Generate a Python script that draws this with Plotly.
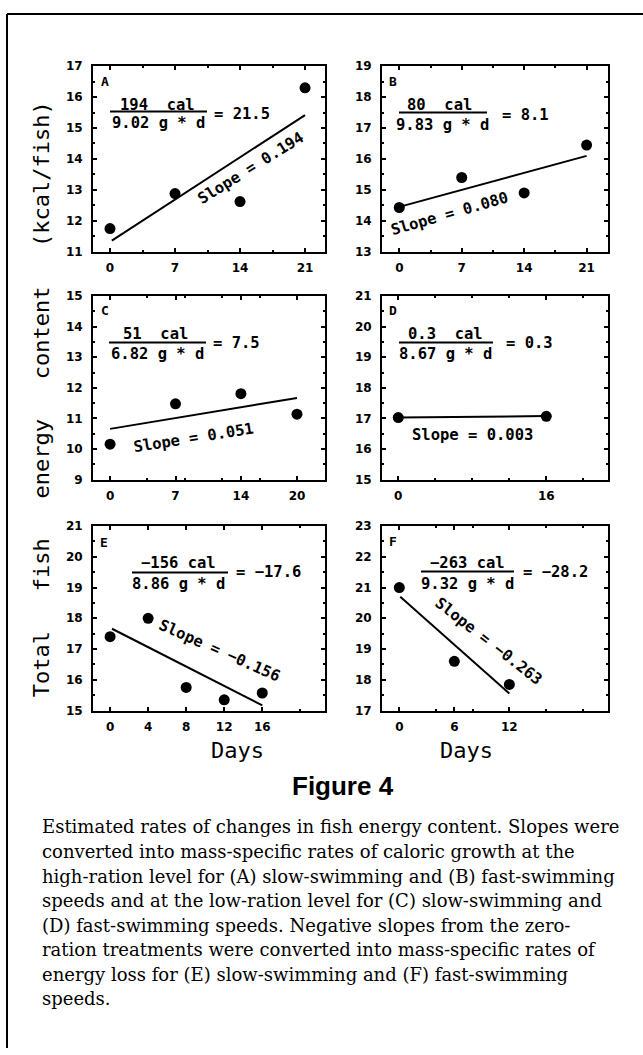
import plotly.graph_objects as go

W, H = 643, 1055

# ---------------- data ----------------
a_days = [0, 7, 14, 21]
a_energy = [11.75, 12.88, 12.62, 16.3]
a_fit_days = [0.2, 21]
a_fit_energy = [11.36, 15.42]

b_days = [0, 7, 14, 21]
b_energy = [14.43, 15.4, 14.9, 16.45]
b_fit_days = [0, 21]
b_fit_energy = [14.45, 16.1]

c_days = [0, 7, 14, 20]
c_energy = [10.16, 11.48, 11.81, 11.14]
c_fit_days = [0, 20]
c_fit_energy = [10.66, 11.67]

d_days = [0, 16]
d_energy = [17.03, 17.07]
d_fit_days = [0, 16]
d_fit_energy = [17.03, 17.08]

e_days = [0, 4, 8, 12, 16]
e_energy = [17.4, 18.0, 15.75, 15.35, 15.57]
e_fit_days = [0.2, 16]
e_fit_energy = [17.66, 15.17]

f_days = [0, 6, 12]
f_energy = [21.0, 18.6, 17.85]
f_fit_days = [0.1, 12]
f_fit_energy = [20.7, 17.55]

a_xticks = [0, 7, 14, 21]
b_xticks = [0, 7, 14, 21]
c_xticks = [0, 7, 14, 20]
d_xticks = [0, 16]
e_xticks = [0, 4, 8, 12, 16]
f_xticks = [0, 6, 12]

a_yticks = [11, 12, 13, 14, 15, 16, 17]
b_yticks = [13, 14, 15, 16, 17, 18, 19]
c_yticks = [9, 10, 11, 12, 13, 14, 15]
d_yticks = [15, 16, 17, 18, 19, 20, 21]
e_yticks = [15, 16, 17, 18, 19, 20, 21]
f_yticks = [17, 18, 19, 20, 21, 22, 23]

panel_letters = ["A", "B", "C", "D", "E", "F"]
numerators = ["194  cal", "80  cal", "51  cal", "0.3  cal", "\u2212156 cal", "\u2212263 cal"]
denominators = ["9.02 g * d", "9.83 g * d", "6.82 g * d", "8.67 g * d", "8.86 g * d", "9.32 g * d"]
rates = ["21.5", "8.1", "7.5", "0.3", "\u221217.6", "\u221228.2"]
slopes = ["0.194", "0.080", "0.051", "0.003", "\u22120.156", "\u22120.263"]

y_title = "Total   fish   energy   content   (kcal/fish)"
x_title = "Days"
fig_title = "Figure 4"
caption_lines = [
    "Estimated rates of changes in fish energy content. Slopes were",
    "converted into mass-specific rates of caloric growth at the",
    "high-ration level for (A) slow-swimming and (B) fast-swimming",
    "speeds and at the low-ration level for (C) slow-swimming and",
    "(D) fast-swimming speeds. Negative slopes from the zero-",
    "ration treatments were converted into mass-specific rates of",
    "energy loss for (E) slow-swimming and (F) fast-swimming",
    "speeds.",
]

# ---------------- layout helpers ----------------
def px(x):
    return x / W

def py(y):
    return 1 - y / H

col_x = [(93, 325), (382, 608)]
row_y = [(60, 248), (293, 479), (526, 713)]
x_ranges = [[-1.83, 23.15], [-1.94, 23.4], [-1.83, 23.0], [-1.76, 22.67], [-1.8, 22.6], [-1.89, 22.76]]

panels = [
    (a_days, a_energy, a_fit_days, a_fit_energy, a_xticks, a_yticks),
    (b_days, b_energy, b_fit_days, b_fit_energy, b_xticks, b_yticks),
    (c_days, c_energy, c_fit_days, c_fit_energy, c_xticks, c_yticks),
    (d_days, d_energy, d_fit_days, d_fit_energy, d_xticks, d_yticks),
    (e_days, e_energy, e_fit_days, e_fit_energy, e_xticks, e_yticks),
    (f_days, f_energy, f_fit_days, f_fit_energy, f_xticks, f_yticks),
]

MONO = "DejaVu Sans Mono"
tickfont = dict(family="DejaVu Sans", size=12, color="black", weight="bold")
annfont = dict(family=MONO, size=15.5, color="black", weight="bold")

fig = go.Figure()
layout = dict(
    width=W, height=H, margin=dict(l=0, r=0, t=0, b=0),
    paper_bgcolor="white", plot_bgcolor="white", showlegend=False,
)

for i, (dx, dy, fx, fy, xt, yt) in enumerate(panels):
    n = "" if i == 0 else str(i + 1)
    r, c = divmod(i, 2)
    x0, x1 = col_x[c]
    y0, y1 = row_y[r]
    fig.add_trace(go.Scatter(x=fx, y=fy, mode="lines", line=dict(color="black", width=2),
                             xaxis="x" + n, yaxis="y" + n, hoverinfo="skip"))
    fig.add_trace(go.Scatter(x=dx, y=dy, mode="markers", marker=dict(color="black", size=11),
                             xaxis="x" + n, yaxis="y" + n))
    common = dict(showline=True, linecolor="black", linewidth=2, mirror="ticks",
                  ticks="inside", ticklen=4, tickwidth=1.5, tickcolor="black",
                  showgrid=False, zeroline=False, tickfont=tickfont, fixedrange=True)
    layout["xaxis" + n] = dict(common, domain=[px(x0), px(x1)], range=x_ranges[i],
                               tickvals=xt, ticktext=[str(v) for v in xt],
                               anchor="y" + n, ticklabelstandoff=4,
                               minor=dict(ticks="inside", ticklen=2, tickcolor="black", dtick=3.5 if i < 2 else 4))
    layout["yaxis" + n] = dict(common, domain=[py(y1), py(y0)], range=[yt[0], yt[-1]],
                               tickvals=yt, ticktext=[str(v) for v in yt],
                               anchor="x" + n, ticklabelstandoff=6,
                               minor=dict(ticks="inside", ticklen=2, tickcolor="black", dtick=0.5))

fig.update_layout(**layout)

# ---------------- in-panel text ----------------
letter_pos = [(105, 75), (393, 75), (105, 308), (393, 308), (104, 543), (393, 542)]
num_pos = [(157, 99), (440, 99), (155, 331), (446, 331), (178, 563), (467, 563)]
bar_pos = [(110, 207, 106), (399, 487, 107), (109, 206, 340), (399, 493, 340), (132, 228, 573), (421, 514, 572)]
den_pos = [(158, 118), (442, 120), (157, 352), (445, 352), (178, 585), (467, 585)]
rate_pos = [(212, 108), (500, 109), (211, 341), (504, 341), (234, 573), (521, 573)]
slope_pos = [(251, 163, -32), (449, 210, -16), (193, 437, -9), (472, 434, 0), (220, 653, 24), (488, 643, 38)]

anns = []
shapes = []
for i in range(6):
    anns.append(dict(x=px(letter_pos[i][0]), y=py(letter_pos[i][1]), text=panel_letters[i],
                     font=dict(family=MONO, size=13, color="black", weight="bold")))
    anns.append(dict(x=px(num_pos[i][0]), y=py(num_pos[i][1]), text=numerators[i], font=annfont))
    anns.append(dict(x=px(den_pos[i][0]), y=py(den_pos[i][1]), text=denominators[i], font=annfont))
    anns.append(dict(x=px(rate_pos[i][0]), y=py(rate_pos[i][1]), text="= " + rates[i], font=annfont,
                     xanchor="left"))
    sx, sy, ang = slope_pos[i]
    anns.append(dict(x=px(sx), y=py(sy), text="Slope = " + slopes[i], font=annfont, textangle=ang))
    bx0, bx1, by = bar_pos[i]
    shapes.append(dict(type="line", xref="paper", yref="paper", x0=px(bx0), x1=px(bx1),
                       y0=py(by), y1=py(by), line=dict(color="black", width=2)))

for a in anns:
    a.setdefault("xanchor", "center")
    a.update(xref="paper", yref="paper", yanchor="middle", showarrow=False)

# axis titles
anns.append(dict(x=px(27), y=py(398), xref="paper", yref="paper", text=y_title, textangle=-90,
                 showarrow=False, font=dict(family=MONO, size=22, color="black")))
for c in range(2):
    cx = (col_x[c][0] + col_x[c][1]) / 2
    anns.append(dict(x=px(cx), y=py(768), xref="paper", yref="paper", text=x_title,
                     showarrow=False, font=dict(family=MONO, size=22, color="black")))

anns.append(dict(x=px(343), y=py(807), xref="paper", yref="paper", text=fig_title, showarrow=False,
                 font=dict(family="Liberation Sans", size=26, color="black", weight="bold")))
for k, line in enumerate(caption_lines):
    anns.append(dict(x=px(40), y=py(831 + 24.9 * k), xref="paper", yref="paper", text=line,
                     xanchor="left", yanchor="middle", showarrow=False,
                     font=dict(family="DejaVu Serif", size=18, color="black")))

# page frame (left and top rules)
shapes.append(dict(type="line", xref="paper", yref="paper", x0=px(7), x1=px(7), y0=0, y1=py(7),
                   line=dict(color="black", width=2)))
shapes.append(dict(type="line", xref="paper", yref="paper", x0=px(7), x1=1, y0=py(7), y1=py(7),
                   line=dict(color="black", width=2)))

fig.update_layout(annotations=anns, shapes=shapes)
fig.write_html("out.html", config={"displayModeBar": False},
               post_script="document.body.style.margin='0px';")
